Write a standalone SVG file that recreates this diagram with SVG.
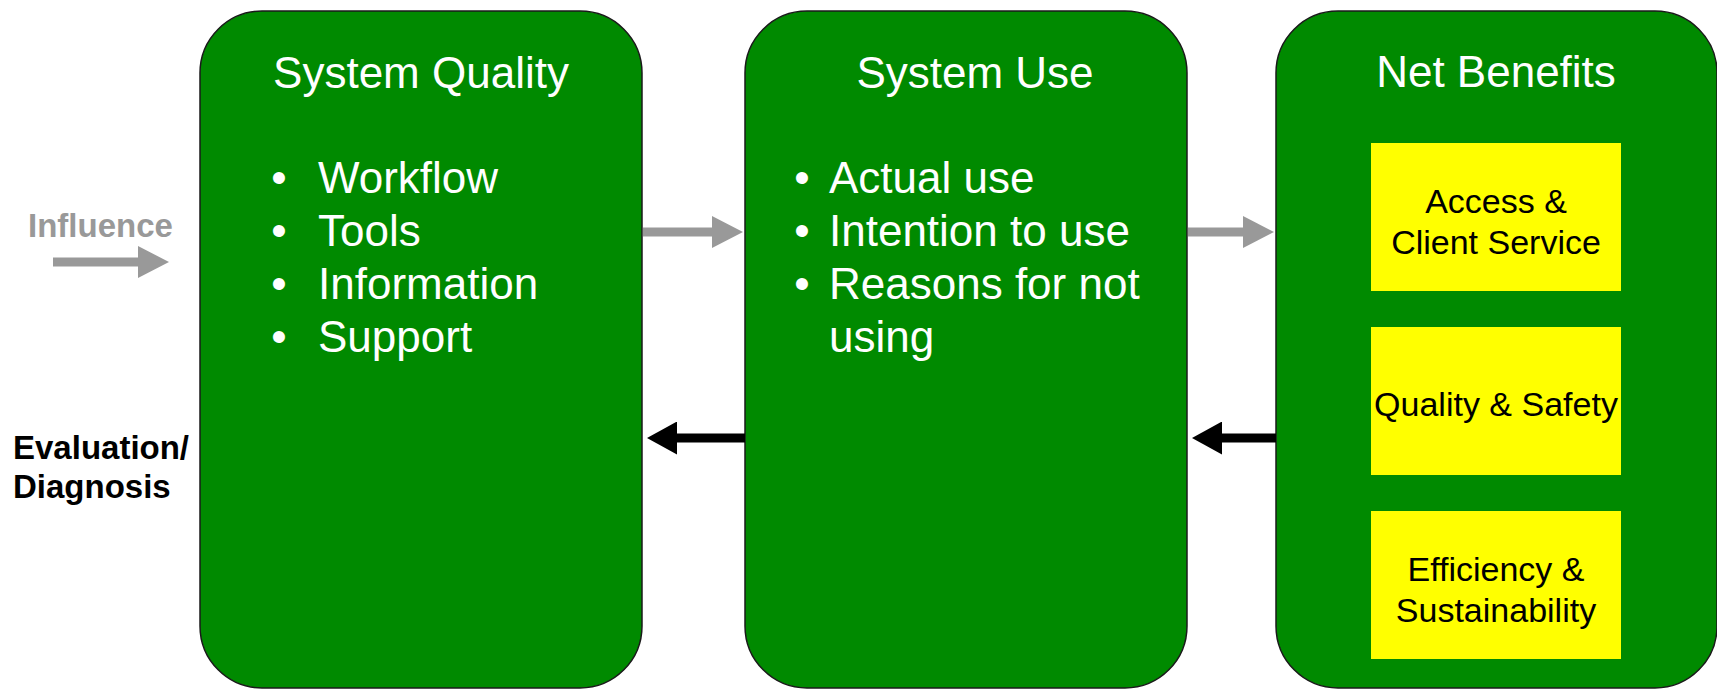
<svg xmlns="http://www.w3.org/2000/svg" width="1717" height="690" viewBox="0 0 1717 690">
  <style>
    .box { fill: #008A00; stroke: #1a1a1a; stroke-width: 1.5; }
    .ybox { fill: #FFFF00; stroke: none; }
    .title { font-family: "Liberation Sans", Arial, sans-serif; font-size: 44px; fill: #ffffff; }
    .item { font-family: "Liberation Sans", Arial, sans-serif; font-size: 44px; fill: #ffffff; }
    .ytext { font-family: "Liberation Sans", Arial, sans-serif; font-size: 34px; fill: #000000; text-anchor: middle; }
    .side { font-family: "Liberation Sans", Arial, sans-serif; font-size: 33px; font-weight: bold; }
    .grey { stroke: #999999; stroke-width: 9; fill: none; }
    .black { stroke: #000000; stroke-width: 9; fill: none; }
  </style>
  <defs>
    <marker id="headGrey" viewBox="0 0 31 32" refX="1" refY="16" markerWidth="31" markerHeight="32" markerUnits="userSpaceOnUse" orient="auto">
      <path d="M0,0 L31,16 L0,32 Z" fill="#999999"/>
    </marker>
    <marker id="headBlack" viewBox="0 0 30 33" refX="1" refY="16.5" markerWidth="30" markerHeight="33" markerUnits="userSpaceOnUse" orient="auto">
      <path d="M0,0 L30,16.5 L0,33 Z" fill="#000000"/>
    </marker>
  </defs>

  <g id="label-influence">
    <text class="side" x="28" y="237" fill="#999999">Influence</text>
  </g>
  <g id="label-evaluation">
    <text class="side" x="13" y="459" fill="#000000">Evaluation/</text>
    <text class="side" x="13" y="498" fill="#000000">Diagnosis</text>
  </g>

  <g id="system-quality">
    <rect class="box" x="200" y="11" width="442" height="677" rx="62" ry="62"/>
    <text class="title" x="421" y="88" text-anchor="middle">System Quality</text>
    <text class="item" x="279" y="193" text-anchor="middle">•</text>
    <text class="item" x="318" y="193">Workflow</text>
    <text class="item" x="279" y="246" text-anchor="middle">•</text>
    <text class="item" x="318" y="246">Tools</text>
    <text class="item" x="279" y="299" text-anchor="middle">•</text>
    <text class="item" x="318" y="299">Information</text>
    <text class="item" x="279" y="352" text-anchor="middle">•</text>
    <text class="item" x="318" y="352">Support</text>
  </g>

  <g id="system-use">
    <rect class="box" x="745" y="11" width="442" height="677" rx="62" ry="62"/>
    <text class="title" x="975" y="88" text-anchor="middle">System Use</text>
    <text class="item" x="802" y="193" text-anchor="middle">•</text>
    <text class="item" x="829" y="193">Actual use</text>
    <text class="item" x="802" y="246" text-anchor="middle">•</text>
    <text class="item" x="829" y="246">Intention to use</text>
    <text class="item" x="802" y="299" text-anchor="middle">•</text>
    <text class="item" x="829" y="299">Reasons for not</text>
    <text class="item" x="829" y="352">using</text>
  </g>

  <g id="net-benefits">
    <rect class="box" x="1276" y="11" width="441" height="677" rx="62" ry="62"/>
    <text class="title" x="1496" y="87" text-anchor="middle">Net Benefits</text>
  </g>
  <g id="access-client-service">
    <rect class="ybox" x="1371" y="143" width="250" height="148"/>
    <text class="ytext" x="1496" y="213">Access &amp;</text>
    <text class="ytext" x="1496" y="254">Client Service</text>
  </g>
  <g id="quality-safety">
    <rect class="ybox" x="1371" y="327" width="250" height="148"/>
    <text class="ytext" x="1496" y="416">Quality &amp; Safety</text>
  </g>
  <g id="efficiency-sustainability">
    <rect class="ybox" x="1371" y="511" width="250" height="148"/>
    <text class="ytext" x="1496" y="581">Efficiency &amp;</text>
    <text class="ytext" x="1496" y="622">Sustainability</text>
  </g>

  <g id="connectors">
    <line class="grey" x1="53" y1="262" x2="139" y2="262" marker-end="url(#headGrey)"/>
    <line class="grey" x1="643" y1="232" x2="713" y2="232" marker-end="url(#headGrey)"/>
    <line class="grey" x1="1188" y1="232" x2="1244" y2="232" marker-end="url(#headGrey)"/>
    <line class="black" x1="745" y1="438" x2="676" y2="438" marker-end="url(#headBlack)"/>
    <line class="black" x1="1276" y1="438" x2="1221" y2="438" marker-end="url(#headBlack)"/>
  </g>
</svg>
